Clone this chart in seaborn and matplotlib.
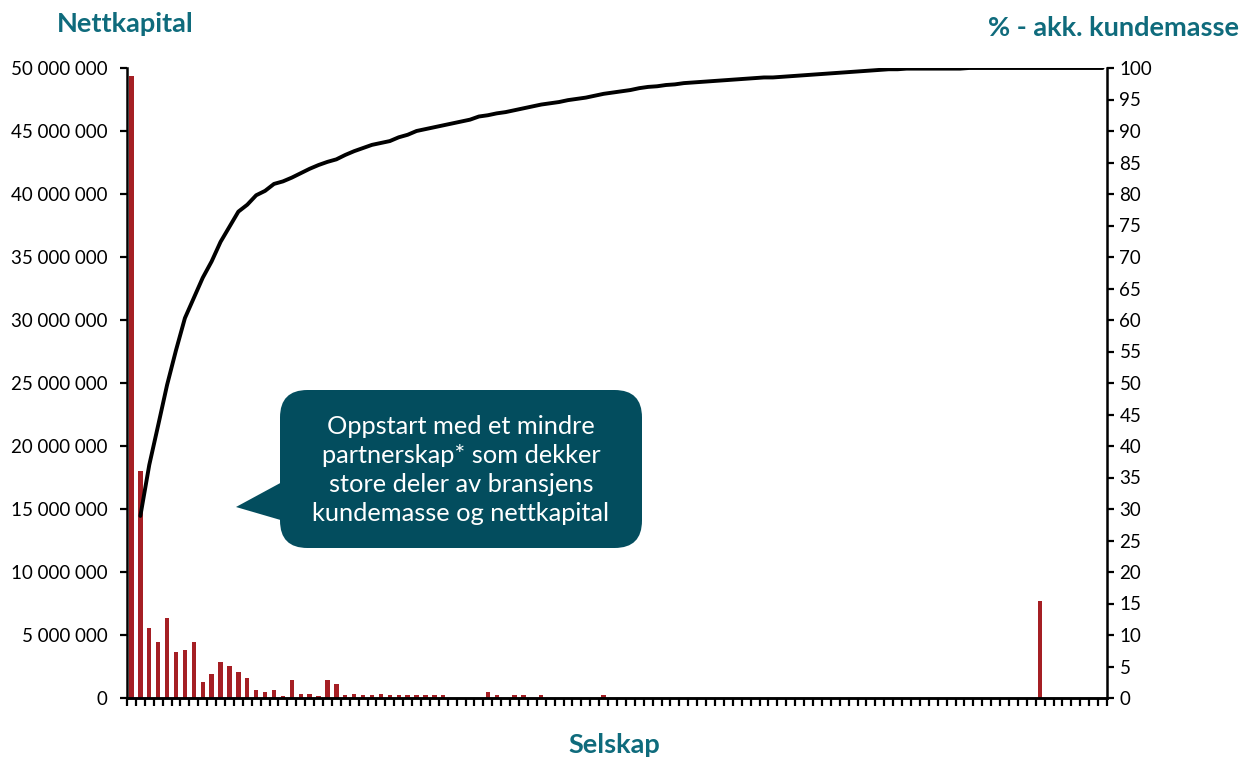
import numpy as np
import pandas as pd
import matplotlib
matplotlib.use("Agg")
import matplotlib.pyplot as plt
from matplotlib.patches import FancyBboxPatch, Polygon
from matplotlib.ticker import FuncFormatter, MultipleLocator
import seaborn as sns

# Net capital per company (NOK), companies sorted by customer mass
n_companies = 110
nettkapital = [0.0] * n_companies
nettkapital[:24] = [
    49.4e6, 18.0e6, 5.58e6, 4.47e6, 6.37e6, 3.67e6, 3.83e6, 4.47e6,
    1.29e6, 1.93e6, 2.88e6, 2.56e6, 2.09e6, 1.61e6, 0.66e6, 0.50e6,
    0.66e6, 0.18e6, 1.45e6, 0.34e6, 0.34e6, 0.18e6, 1.46e6, 1.14e6,
]
nettkapital[24:36] = [0.2e6, 0.34e6, 0.2e6, 0.2e6, 0.34e6, 0.2e6,
                      0.2e6, 0.2e6, 0.2e6, 0.2e6, 0.2e6, 0.2e6]
nettkapital[40] = 0.50e6
nettkapital[41] = 0.2e6
nettkapital[43] = 0.2e6
nettkapital[44] = 0.2e6
nettkapital[46] = 0.2e6
nettkapital[53] = 0.2e6
nettkapital[102] = 7.7e6

# Accumulated share of customer mass (%), from company no. 2 onwards
akk_kundemasse = [
    28.9, 37.0, 43.3, 49.7, 55.2, 60.3, 63.5, 66.7, 69.3, 72.4,
    74.8, 77.2, 78.3, 79.8, 80.5, 81.6, 82.0, 82.6, 83.3, 84.0,
    84.6, 85.1, 85.5, 86.2, 86.8, 87.3, 87.8, 88.1, 88.4, 89.0,
    89.4, 90.0, 90.3, 90.6, 90.9, 91.2, 91.5, 91.8, 92.3, 92.5,
    92.8, 93.0, 93.3, 93.6, 93.9, 94.2, 94.4, 94.6, 94.9, 95.1,
    95.3, 95.6, 95.9, 96.1, 96.3, 96.5, 96.8, 97.0, 97.1, 97.3,
    97.4, 97.6, 97.7, 97.8, 97.9, 98.0, 98.1, 98.2, 98.3, 98.4,
    98.5, 98.5, 98.6, 98.7, 98.8, 98.9, 99.0, 99.1, 99.2, 99.3,
    99.4, 99.5, 99.6, 99.7, 99.8, 99.8, 99.9, 99.9, 99.9, 99.9,
    99.9, 99.9, 99.9, 100.0, 100.0, 100.0, 100.0, 100.0, 100.0, 100.0,
    100.0, 100.0, 100.0, 100.0, 100.0, 100.0, 100.0, 100.0, 100.0,
]

left_title = "Nettkapital"
right_title = "% - akk. kundemasse"
x_title = "Selskap"
callout_text = ("Oppstart med et mindre\npartnerskap* som dekker\n"
                "store deler av bransjens\nkundemasse og nettkapital")

bar_color = "#A51F24"
teal = "#0F6B7C"
callout_color = "#034D5E"

sns.set_theme(style="white")
plt.rcParams["font.family"] = ["Lato", "DejaVu Sans"]

companies = list(range(n_companies))
bars_df = pd.DataFrame({"selskap": companies, "nettkapital": nettkapital})
line_df = pd.DataFrame({"selskap": companies[1:1 + len(akk_kundemasse)],
                        "akk": akk_kundemasse})

fig = plt.figure(figsize=(12.45, 7.58), dpi=100)
ax = fig.add_axes([127 / 1245, 60 / 758, 980 / 1245, 630 / 758])

sns.barplot(data=bars_df, x="selskap", y="nettkapital", color=bar_color,
            saturation=1, width=0.48, linewidth=0, ax=ax, order=companies)
ax.set_xlim(-0.5, n_companies - 0.5)
ax.set_ylim(0, 50e6)
ax.yaxis.set_major_locator(MultipleLocator(5e6))
ax.yaxis.set_major_formatter(
    FuncFormatter(lambda v, _: f"{int(v):,}".replace(",", " ")))
ax.set_xticks(np.arange(-0.5, n_companies, 1.0))
ax.set_xticklabels([])
ax.set_xlabel("")
ax.set_ylabel("")

ax2 = ax.twinx()
sns.lineplot(data=line_df, x="selskap", y="akk", color="black",
             linewidth=2.8, ax=ax2)
ax2.set_ylim(0, 100)
ax2.set_xlim(-0.5, n_companies - 0.5)
ax2.yaxis.set_major_locator(MultipleLocator(5))
ax2.set_ylabel("")
ax2.set_xlabel("")

for a in (ax, ax2):
    for side in ("left", "right", "bottom"):
        a.spines[side].set_color("black")
        a.spines[side].set_linewidth(1.8)
    a.spines["top"].set_visible(False)
    a.tick_params(axis="both", direction="out", length=5, width=1.6,
                  color="black", labelsize=13.5, labelcolor="black")
ax.tick_params(axis="y", left=True, right=False, pad=9)
ax.tick_params(axis="x", bottom=True, length=6)
ax2.tick_params(axis="y", right=True, left=False, pad=4)
ax2.spines["left"].set_visible(False)
ax.spines["right"].set_visible(False)

fig.text(125 / 1245, 1 - 24 / 758, left_title, ha="center", va="center",
         fontsize=19.5, fontweight="bold", color=teal)
fig.text(1113 / 1245, 1 - 28 / 758, right_title, ha="center", va="center",
         fontsize=19.5, fontweight="bold", color=teal)
fig.text(614 / 1245, 1 - 745 / 758, x_title, ha="center", va="center",
         fontsize=19.5, fontweight="bold", color=teal)

# Speech-bubble callout
W, H = 1245, 758
box = FancyBboxPatch((280 / W, 1 - 548 / H), 362 / W, 158 / H,
                     boxstyle="round,pad=0,rounding_size=0.022",
                     transform=fig.transFigure, facecolor=callout_color,
                     edgecolor="none", mutation_aspect=W / H)
fig.patches.append(box)
pointer = Polygon([(236 / W, 1 - 507 / H), (284 / W, 1 - 481 / H),
                   (284 / W, 1 - 521 / H)], closed=True,
                  transform=fig.transFigure, facecolor=callout_color,
                  edgecolor="none")
fig.patches.append(pointer)
fig.text(461 / W, 1 - 470 / H, callout_text, ha="center", va="center",
         color="white", fontsize=18.3, linespacing=1.3)

fig.savefig("out.png", dpi=100)
